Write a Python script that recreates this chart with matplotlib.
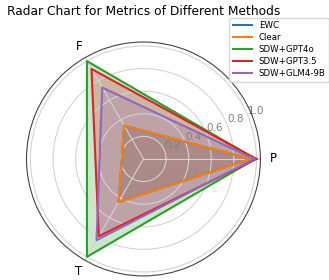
import numpy as np
import matplotlib
matplotlib.use("Agg")
import matplotlib.pyplot as plt

# metrics on the three axes
labels = ["P", "F", "T"]
methods = ["EWC", "Clear", "SDW+GPT4o", "SDW+GPT3.5", "SDW+GLM4-9B"]
ewc = [0.95, 0.34, 0.44]
clear = [0.95, 0.34, 0.44]
sdw_gpt4o = [0.99, 1.00, 1.00]
sdw_gpt35 = [1.00, 0.92, 0.79]
sdw_glm4 = [0.98, 0.73, 0.83]
values = [ewc, clear, sdw_gpt4o, sdw_gpt35, sdw_glm4]

angles = np.linspace(0, 2 * np.pi, len(labels), endpoint=False).tolist()
angles += angles[:1]

fig = plt.figure(figsize=(3.29, 2.8), dpi=100)
ax = fig.add_axes([0.0805, 0.0143, 0.711, 0.836], polar=True)

for name, vals in zip(methods, values):
    v = vals + vals[:1]
    line, = ax.plot(angles, v, linewidth=1.5, label=name)
    ax.fill(angles, v, color=line.get_color(), alpha=0.25)

ax.set_xticks(angles[:-1])
ax.set_xticklabels(labels, fontsize=8.5)
ax.tick_params(axis="x", pad=-1.5)
ax.set_yticks([0.2, 0.4, 0.6, 0.8, 1.0])
ax.tick_params(axis="y", labelsize=7.5, labelcolor="grey")
ax.set_ylim(0, 1.035)
ax.grid(color="#d3d3d3", linewidth=0.8)
ax.spines["polar"].set_color("#444444")
ax.spines["polar"].set_linewidth(0.8)

fig.text(143.5 / 329, 1 - 15 / 280, "Radar Chart for Metrics of Different Methods",
         ha="center", va="baseline", fontsize=8.8)
fig.legend(loc="upper right", bbox_to_anchor=(1.0, 1 - 18 / 280),
           borderaxespad=0, fontsize=6.2, labelspacing=0.35,
           handlelength=2.2)

fig.savefig("out.png", dpi=100)
